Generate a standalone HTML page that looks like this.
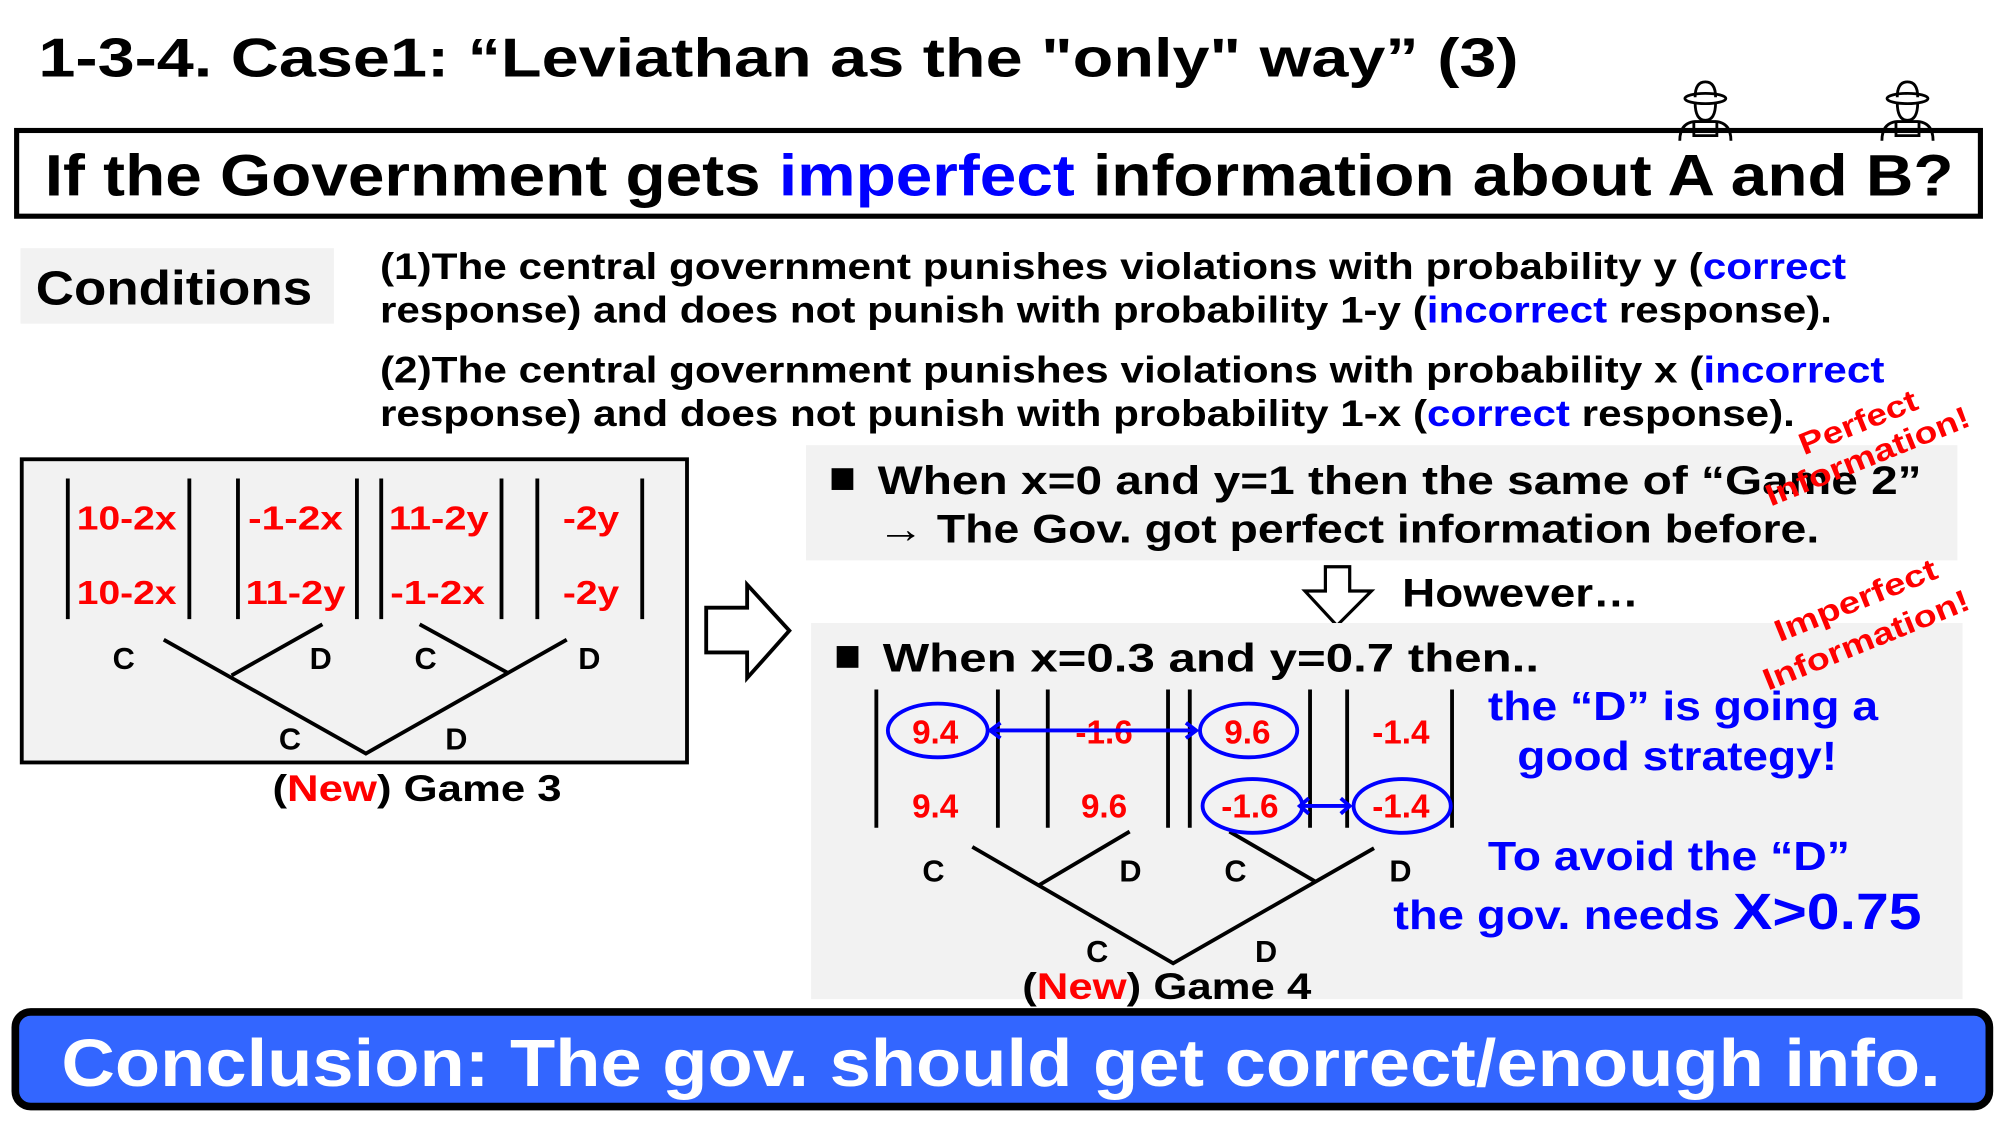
<!DOCTYPE html>
<html><head><meta charset="utf-8"><style>
html,body{margin:0;padding:0;background:#fff;}
svg{display:block;}
text{font-family:"Liberation Sans",sans-serif;font-weight:bold;}
</style></head><body>
<svg width="2006" height="1141" viewBox="0 0 1568 891.9" preserveAspectRatio="none" xmlns="http://www.w3.org/2000/svg">
<rect width="1568" height="892" fill="#fff"/>
<text x="30" y="60" font-size="43" textLength="1157" lengthAdjust="spacingAndGlyphs">1-3-4. Case1: “Leviathan as the "only" way” (3)</text>
<rect x="13" y="102" width="1535" height="67" fill="#fff" stroke="#000" stroke-width="4"/>
<text x="35" y="153" font-size="46" textLength="1492" lengthAdjust="spacingAndGlyphs">If the Government gets <tspan fill="#0000ff">imperfect</tspan> information about A and B?</text>
<g fill="none" stroke="#000" stroke-width="2.2">
 <g transform="translate(1333,0)">
  <ellipse cx="0" cy="77" rx="16" ry="4"/><path d="M-8,76 Q-8,64 0,64 Q8,64 8,76"/>
  <path d="M-8,80 Q-8,94 0,94 Q8,94 8,80"/>
  <path d="M-20,110 Q-20,96 -8,95 L8,95 Q20,96 20,110"/><path d="M-9,96 L-9,106 L9,106 L9,96"/>
 </g>
 <g transform="translate(1491,0)">
  <ellipse cx="0" cy="77" rx="16" ry="4"/><path d="M-8,76 Q-8,64 0,64 Q8,64 8,76"/>
  <path d="M-8,80 Q-8,94 0,94 Q8,94 8,80"/>
  <path d="M-20,110 Q-20,96 -8,95 L8,95 Q20,96 20,110"/><path d="M-9,96 L-9,106 L9,106 L9,96"/>
 </g>
</g>
<rect x="16" y="194" width="245" height="59" fill="#f2f2f2"/>
<text x="28" y="238" font-size="38" textLength="216" lengthAdjust="spacingAndGlyphs">Conditions</text>
<g font-size="29">
<text x="297" y="218" textLength="1146" lengthAdjust="spacingAndGlyphs">(1)The central government punishes violations with probability y (<tspan fill="#0000ff">correct</tspan></text>
<text x="297" y="252" textLength="1135" lengthAdjust="spacingAndGlyphs">response) and does not punish with probability 1-y (<tspan fill="#0000ff">incorrect</tspan> response).</text>
<text x="297" y="299" textLength="1176" lengthAdjust="spacingAndGlyphs">(2)The central government punishes violations with probability x (<tspan fill="#0000ff">incorrect</tspan></text>
<text x="297" y="333" textLength="1106" lengthAdjust="spacingAndGlyphs">response) and does not punish with probability 1-x (<tspan fill="#0000ff">correct</tspan> response).</text>
</g>
<rect x="17" y="359" width="520" height="237" fill="#f2f2f2" stroke="#000" stroke-width="3"/>
<g stroke="#000" stroke-width="3">
<line x1="53" y1="374" x2="53" y2="484"/><line x1="148" y1="374" x2="148" y2="484"/>
<line x1="186" y1="374" x2="186" y2="484"/><line x1="279" y1="374" x2="279" y2="484"/>
<line x1="298" y1="374" x2="298" y2="484"/><line x1="392" y1="374" x2="392" y2="484"/>
<line x1="420" y1="374" x2="420" y2="484"/><line x1="502" y1="374" x2="502" y2="484"/>
<polyline points="128,500 286,589 443,500" fill="none"/>
<line x1="181" y1="528" x2="252" y2="488"/>
<line x1="328" y1="488" x2="397" y2="526"/>
</g>
<g font-size="26" fill="#ff0000">
<text x="60" y="414" textLength="78" lengthAdjust="spacingAndGlyphs">10-2x</text>
<text x="194" y="414" textLength="74" lengthAdjust="spacingAndGlyphs">-1-2x</text>
<text x="304" y="414" textLength="78" lengthAdjust="spacingAndGlyphs">11-2y</text>
<text x="440" y="414" textLength="44" lengthAdjust="spacingAndGlyphs">-2y</text>
<text x="60" y="472" textLength="78" lengthAdjust="spacingAndGlyphs">10-2x</text>
<text x="192" y="472" textLength="78" lengthAdjust="spacingAndGlyphs">11-2y</text>
<text x="305" y="472" textLength="74" lengthAdjust="spacingAndGlyphs">-1-2x</text>
<text x="440" y="472" textLength="44" lengthAdjust="spacingAndGlyphs">-2y</text>
</g>
<g font-size="24">
<text x="88" y="523">C</text><text x="242" y="523">D</text><text x="324" y="523">C</text><text x="452" y="523">D</text>
<text x="218" y="586">C</text><text x="348" y="586">D</text>
</g>
<text x="213" y="626" font-size="29" textLength="226" lengthAdjust="spacingAndGlyphs">(<tspan fill="#ff0000">New</tspan>) Game 3</text>
<path d="M552,475 L584,475 L584,457 L617,493 L584,530 L584,510 L552,510 Z" fill="#fff" stroke="#000" stroke-width="3"/>
<rect x="630" y="348" width="900" height="90" fill="#f2f2f2"/>
<rect x="650" y="366" width="17" height="17" fill="#000"/>
<text x="686" y="386" font-size="31" textLength="816" lengthAdjust="spacingAndGlyphs">When x=0 and y=1 then the same of “Game 2”</text>
<text x="686" y="424" font-size="31" textLength="736" lengthAdjust="spacingAndGlyphs">→ The Gov. got perfect information before.</text>
<path d="M1036,443 L1055,443 L1055,462 L1072,462 L1045,489 L1020,462 L1036,462 Z" fill="#fff" stroke="#000" stroke-width="2.5"/>
<text x="1096" y="474" font-size="31" textLength="185" lengthAdjust="spacingAndGlyphs">However…</text>
<rect x="634" y="487" width="900" height="294" fill="#f2f2f2"/>
<rect x="654" y="505" width="17" height="17" fill="#000"/>
<text x="690" y="525" font-size="31" textLength="513" lengthAdjust="spacingAndGlyphs">When x=0.3 and y=0.7 then..</text>
<g stroke="#000" stroke-width="3">
<line x1="685" y1="539" x2="685" y2="647"/><line x1="780" y1="539" x2="780" y2="647"/>
<line x1="819" y1="539" x2="819" y2="647"/><line x1="913" y1="539" x2="913" y2="647"/>
<line x1="930" y1="539" x2="930" y2="647"/><line x1="1024" y1="539" x2="1024" y2="647"/>
<line x1="1053" y1="539" x2="1053" y2="647"/><line x1="1135" y1="539" x2="1135" y2="647"/>
<polyline points="760,662 917,753 1074,663" fill="none"/>
<line x1="812" y1="692" x2="883" y2="650"/>
<line x1="961" y1="650" x2="1028" y2="689"/>
</g>
<g font-size="26" fill="#ff0000" text-anchor="middle">
<text x="731" y="581">9.4</text><text x="863" y="581">-1.6</text><text x="975" y="581">9.6</text><text x="1095" y="581">-1.4</text>
<text x="731" y="639">9.4</text><text x="863" y="639">9.6</text><text x="977" y="639">-1.6</text><text x="1095" y="639">-1.4</text>
</g>
<g fill="none" stroke="#0000ff" stroke-width="3">
<ellipse cx="733" cy="571" rx="39" ry="21"/>
<ellipse cx="976" cy="571" rx="38" ry="21"/>
<ellipse cx="979" cy="630" rx="39" ry="21"/>
<ellipse cx="1096" cy="630" rx="38" ry="21"/>
<line x1="774" y1="571" x2="935" y2="571"/>
<path d="M782,565 L774,571 L782,577 M927,565 L935,571 L927,577"/>
<line x1="1016" y1="630" x2="1055" y2="630"/>
<path d="M1023,624 L1016,630 L1023,636 M1048,624 L1055,630 L1048,636"/>
</g>
<g font-size="24">
<text x="721" y="689">C</text><text x="875" y="689">D</text><text x="957" y="689">C</text><text x="1086" y="689">D</text>
<text x="849" y="752">C</text><text x="981" y="752">D</text>
</g>
<text x="799" y="781" font-size="29" textLength="226" lengthAdjust="spacingAndGlyphs">(<tspan fill="#ff0000">New</tspan>) Game 4</text>
<g fill="#0000ff" font-size="32">
<text x="1163" y="563" textLength="305" lengthAdjust="spacingAndGlyphs">the “D” is going a</text>
<text x="1186" y="602" textLength="250" lengthAdjust="spacingAndGlyphs">good strategy!</text>
<text x="1163" y="680" textLength="283" lengthAdjust="spacingAndGlyphs">To avoid the “D”</text>
<text x="1089" y="726" textLength="413" lengthAdjust="spacingAndGlyphs">the gov. needs <tspan font-size="40">X&gt;0.75</tspan></text>
</g>
<g fill="#ff0000" font-size="24">
<text transform="translate(1410,356) rotate(-22)" textLength="98" lengthAdjust="spacingAndGlyphs">Perfect</text>
<text transform="translate(1384,396) rotate(-22)" textLength="170" lengthAdjust="spacingAndGlyphs">Information!</text>
<text transform="translate(1391,502) rotate(-22)" textLength="135" lengthAdjust="spacingAndGlyphs">Imperfect</text>
<text transform="translate(1382,540) rotate(-22)" textLength="172" lengthAdjust="spacingAndGlyphs">Information!</text>
</g>
<rect x="12" y="791" width="1543" height="74" rx="12" fill="#3366ff" stroke="#000" stroke-width="6"/>
<text x="48" y="849" font-size="52" fill="#fff" textLength="1469" lengthAdjust="spacingAndGlyphs">Conclusion: The gov. should get correct/enough info.</text>
</svg>
</body></html>
